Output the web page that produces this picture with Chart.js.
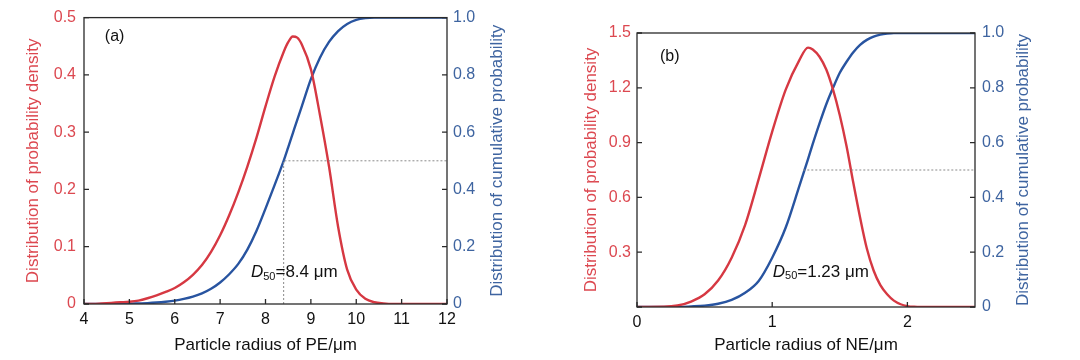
<!DOCTYPE html>
<html>
<head>
<meta charset="utf-8">
<script src="https://cdn.jsdelivr.net/npm/chart.js@4"></script>
<style>
  body { margin: 0; background: #fff; }
  .panel { position: absolute; top: 0; width: 540px; height: 360px; }
</style>
</head>
<body>
<div class="panel" style="left:0"><canvas id="chartPE" width="540" height="360"></canvas></div>
<div class="panel" style="left:540px"><canvas id="chartNE" width="540" height="360"></canvas></div>
<script>
// (a) PE particles
const radiusPE = [4, 4.2, 4.4, 4.6, 4.8, 5, 5.2, 5.4, 5.6, 5.8, 6, 6.2, 6.4, 6.6, 6.8, 7, 7.2, 7.4, 7.6, 7.8, 8, 8.2, 8.4, 8.5, 8.6, 8.7, 8.8, 9, 9.2, 9.4, 9.6, 9.8, 10, 10.2, 10.4, 10.6, 10.8, 11, 12];
const densityPE = [0, 0, 0.001, 0.002, 0.003, 0.004, 0.006, 0.01, 0.015, 0.021, 0.028, 0.038, 0.051, 0.068, 0.091, 0.12, 0.155, 0.195, 0.24, 0.29, 0.345, 0.397, 0.44, 0.457, 0.467, 0.465, 0.453, 0.41, 0.33, 0.24, 0.135, 0.06, 0.025, 0.009, 0.003, 0.001, 0, 0, 0];
const cumulativePE = [0, 0, 0, 0, 0.001, 0.001, 0.002, 0.003, 0.005, 0.008, 0.012, 0.018, 0.026, 0.037, 0.053, 0.075, 0.104, 0.14, 0.19, 0.255, 0.333, 0.415, 0.5, 0.547, 0.595, 0.643, 0.69, 0.785, 0.86, 0.915, 0.953, 0.978, 0.992, 0.998, 1, 1, 1, 1, 1];
const medianPE = 8.4;

// (b) NE particles
const radiusNE = [0, 0.2, 0.3, 0.4, 0.5, 0.6, 0.7, 0.8, 0.9, 1.0, 1.1, 1.2, 1.265, 1.3, 1.35, 1.4, 1.45, 1.5, 1.55, 1.6, 1.65, 1.7, 1.75, 1.8, 1.85, 1.9, 1.95, 2.0, 2.05, 2.1, 2.5];
const densityNE = [0, 0.001, 0.008, 0.03, 0.07, 0.145, 0.27, 0.45, 0.7, 0.96, 1.19, 1.35, 1.42, 1.41, 1.37, 1.3, 1.19, 1.05, 0.88, 0.68, 0.49, 0.32, 0.2, 0.12, 0.07, 0.035, 0.015, 0.005, 0.001, 0, 0];
const cumulativeNE = [0, 0, 0, 0.002, 0.005, 0.012, 0.026, 0.052, 0.095, 0.18, 0.29, 0.44, 0.54, 0.595, 0.67, 0.74, 0.8, 0.855, 0.895, 0.93, 0.957, 0.975, 0.987, 0.994, 0.998, 1, 1, 1, 1, 1, 1];
const medianNE = 1.23;

const RED = "rgb(214,56,66)";
const RED_TEXT = "rgb(220,72,80)";
const BLUE = "rgb(40,84,160)";
const BLUE_TEXT = "rgb(62,100,160)";
const FONT = "'Liberation Sans', Arial, sans-serif";

function toPoints(xs, ys) {
  return xs.map((x, i) => ({ x: x, y: ys[i] }));
}

// frame, inward ticks, right title and text labels
const framePlugin = {
  id: "frame",
  afterDatasetsDraw(chart, args, opts) {
    const { ctx, chartArea: a, scales } = chart;
    ctx.save();
    ctx.strokeStyle = "#2a2a2a";
    ctx.lineWidth = 1.3;
    ctx.strokeRect(a.left, a.top, a.right - a.left, a.bottom - a.top);
    ctx.beginPath();
    scales.x.ticks.forEach((t) => {
      const px = scales.x.getPixelForValue(t.value);
      ctx.moveTo(px, a.bottom);
      ctx.lineTo(px, a.bottom - 5);
    });
    scales.y.ticks.forEach((t) => {
      const py = scales.y.getPixelForValue(t.value);
      ctx.moveTo(a.left, py);
      ctx.lineTo(a.left + 5, py);
    });
    scales.y2.ticks.forEach((t) => {
      const py = scales.y2.getPixelForValue(t.value);
      ctx.moveTo(a.right, py);
      ctx.lineTo(a.right - 5, py);
    });
    ctx.stroke();

    // right axis title, reading bottom to top
    ctx.save();
    ctx.translate(opts.rightTitleX, (a.top + a.bottom) / 2);
    ctx.rotate(-Math.PI / 2);
    ctx.fillStyle = BLUE_TEXT;
    ctx.font = "17px " + FONT;
    ctx.textAlign = "center";
    ctx.textBaseline = "middle";
    ctx.fillText("Distribution of cumulative probability", 0, 0);
    ctx.restore();

    ctx.fillStyle = "#111";
    ctx.textBaseline = "middle";
    ctx.textAlign = "left";
    // panel letter
    ctx.font = "16px " + FONT;
    ctx.fillText(opts.panel, scales.x.getPixelForValue(opts.panelAt[0]), scales.y.getPixelForValue(opts.panelAt[1]));
    // D50 label
    let x = scales.x.getPixelForValue(opts.d50At[0]);
    const y = scales.y.getPixelForValue(opts.d50At[1]);
    ctx.font = "italic 17px " + FONT;
    ctx.fillText("D", x, y);
    x += ctx.measureText("D").width;
    ctx.font = "11px " + FONT;
    ctx.fillText("50", x, y + 4);
    x += ctx.measureText("50").width;
    ctx.font = "17px " + FONT;
    ctx.fillText("=" + opts.d50, x, y);
    ctx.restore();
  },
};

function makeChart(id, cfg) {
  const ctx = document.getElementById(id).getContext("2d");
  return new Chart(ctx, {
    type: "line",
    data: {
      datasets: [
        {
          data: cfg.guide,
          yAxisID: "y2",
          borderColor: "#8a8a8a",
          borderWidth: 1,
          borderDash: [2, 2],
          pointRadius: 0,
          tension: 0,
        },
        {
          data: toPoints(cfg.xs, cfg.density),
          yAxisID: "y",
          borderColor: RED,
          borderWidth: 2.4,
          pointRadius: 0,
          cubicInterpolationMode: "monotone",
        },
        {
          data: toPoints(cfg.xs, cfg.cumulative),
          yAxisID: "y2",
          borderColor: BLUE,
          borderWidth: 2.4,
          pointRadius: 0,
          cubicInterpolationMode: "monotone",
        },
      ],
    },
    options: {
      responsive: false,
      animation: false,
      layout: { padding: { top: cfg.top, left: 0, right: 0, bottom: 0 } },
      plugins: {
        legend: { display: false },
        tooltip: { enabled: false },
        frame: cfg.labels,
      },
      scales: {
        x: {
          type: "linear",
          min: cfg.xMin,
          max: cfg.xMax,
          grid: { display: false, drawTicks: false },
          border: { display: false },
          ticks: {
            stepSize: 1,
            includeBounds: false,
            padding: 6,
            color: "#111",
            font: { family: FONT, size: 16 },
          },
          title: {
            display: true,
            text: cfg.xTitle,
            color: "#111",
            font: { family: FONT, size: 17 },
            padding: { top: 0, bottom: 4 },
          },
          afterFit: (s) => { s.height = cfg.xHeight; },
        },
        y: {
          position: "left",
          min: 0,
          max: cfg.yMax,
          grid: { display: false, drawTicks: false },
          border: { display: false },
          ticks: {
            stepSize: cfg.yStep,
            padding: cfg.yPad,
            color: RED_TEXT,
            font: { family: FONT, size: 16 },
            callback: cfg.yLabel,
          },
          title: {
            display: true,
            text: "Distribution of probability density",
            color: RED_TEXT,
            font: { family: FONT, size: 17 },
            padding: { top: cfg.yTitlePad, bottom: 0 },
          },
          afterFit: (s) => { s.width = cfg.yWidth; },
        },
        y2: {
          position: "right",
          min: 0,
          max: 1,
          grid: { display: false, drawTicks: false },
          border: { display: false },
          ticks: {
            stepSize: 0.2,
            padding: cfg.y2Pad,
            color: BLUE_TEXT,
            font: { family: FONT, size: 16 },
            callback: (v) => (v === 0 ? "0" : v.toFixed(1)),
          },
          afterFit: (s) => { s.width = cfg.y2Width; },
        },
      },
    },
    plugins: [framePlugin],
  });
}

makeChart("chartPE", {
  xs: radiusPE,
  density: densityPE,
  cumulative: cumulativePE,
  guide: [{ x: medianPE, y: 0 }, { x: medianPE, y: 0.5 }, { x: 12, y: 0.5 }],
  xMin: 4,
  xMax: 12,
  yMax: 0.5,
  yStep: 0.1,
  yLabel: (v) => (v === 0 ? "0" : v.toFixed(1)),
  xTitle: "Particle radius of PE/μm",
  top: 12,
  xHeight: 56,
  yWidth: 84,
  y2Width: 93,
  yPad: 8,
  y2Pad: 6,
  yTitlePad: 23,
  labels: { panel: "(a)", panelAt: [4.46, 0.466], d50: "8.4 μm", d50At: [7.68, 0.055], rightTitleX: 497 },
});

makeChart("chartNE", {
  xs: radiusNE,
  density: densityNE,
  cumulative: cumulativeNE,
  guide: [{ x: medianNE, y: 0.5 }, { x: 2.5, y: 0.5 }],
  xMin: 0,
  xMax: 2.5,
  yMax: 1.5,
  yStep: 0.3,
  yLabel: (v) => (v === 0 ? "" : v.toFixed(1)),
  xTitle: "Particle radius of NE/μm",
  top: 33,
  xHeight: 53,
  yWidth: 97,
  y2Width: 105,
  yPad: 6,
  y2Pad: 7,
  yTitlePad: 41,
  labels: { panel: "(b)", panelAt: [0.17, 1.369], d50: "1.23 μm", d50At: [1.004, 0.19], rightTitleX: 483 },
});
</script>
</body>
</html>
